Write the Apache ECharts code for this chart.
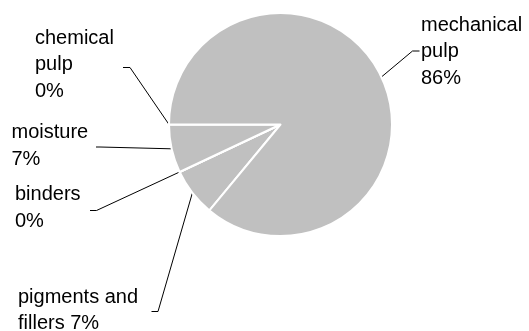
<!DOCTYPE html>
<html>
<head>
<meta charset="utf-8">
<script src="https://cdn.jsdelivr.net/npm/echarts@6/dist/echarts.min.js"></script>
<style>
  html, body { margin: 0; padding: 0; background: #fff; }
  #chart { width: 529px; height: 331px; }
</style>
</head>
<body>
<div id="chart"></div>
<script>
// paper composition, clockwise from lower left
var names = ['pigments and fillers', 'binders', 'moisture', 'chemical pulp', 'mechanical pulp']
var values = [7, 0, 7, 0, 86]
var labelNames = ['pigments and\nfillers', 'binders\n', 'moisture\n', 'chemical\npulp\n', 'mechanical\npulp\n']

// where each label sits (left, top) and the elbow of its leader line
var labelPos = [[18, 284], [15, 181.5], [11.5, 119.5], [35, 25], [421, 12]]
var elbows = [
  [[158, 311.5], [151.5, 311.5]],
  [[96.5, 210.5], [90, 210.5]],
  [[100, 147], [96, 147]],
  [[130, 67.5], [123, 67.5]],
  [[412.5, 51], [419.5, 51]]
]

var chart = echarts.init(document.getElementById('chart'))

var option = {
  animation: false,
  series: [
    {
      type: 'pie',
      center: [280.5, 124.5],
      radius: 111.5,
      startAngle: 230.4,
      clockwise: true,
      avoidLabelOverlap: false,
      data: names.map(function (n, i) {
        return { name: n, value: values[i] }
      }),
      itemStyle: {
        color: '#c0c0c0',
        borderColor: '#fff',
        borderWidth: 2
      },
      label: {
        show: true,
        position: 'outside',
        color: '#000',
        fontFamily: 'Liberation Sans, Arial, sans-serif',
        fontSize: 20,
        lineHeight: 26.5,
        formatter: function (p) {
          var sep = p.dataIndex === 0 ? ' ' : ''
          return labelNames[p.dataIndex] + sep + Math.round(p.percent) + '%'
        }
      },
      labelLine: {
        show: true,
        lineStyle: { color: '#000', width: 1 }
      },
      labelLayout: function (params) {
        var i = params.dataIndex
        var pts = params.labelLinePoints
        var out = {
          x: labelPos[i][0],
          y: labelPos[i][1],
          align: 'left',
          verticalAlign: 'top'
        }
        if (pts) {
          out.labelLinePoints = [pts[0], elbows[i][0], elbows[i][1]]
        }
        return out
      },
      emphasis: { disabled: true }
    }
  ]
}
chart.setOption(option, true)
</script>
</body>
</html>
